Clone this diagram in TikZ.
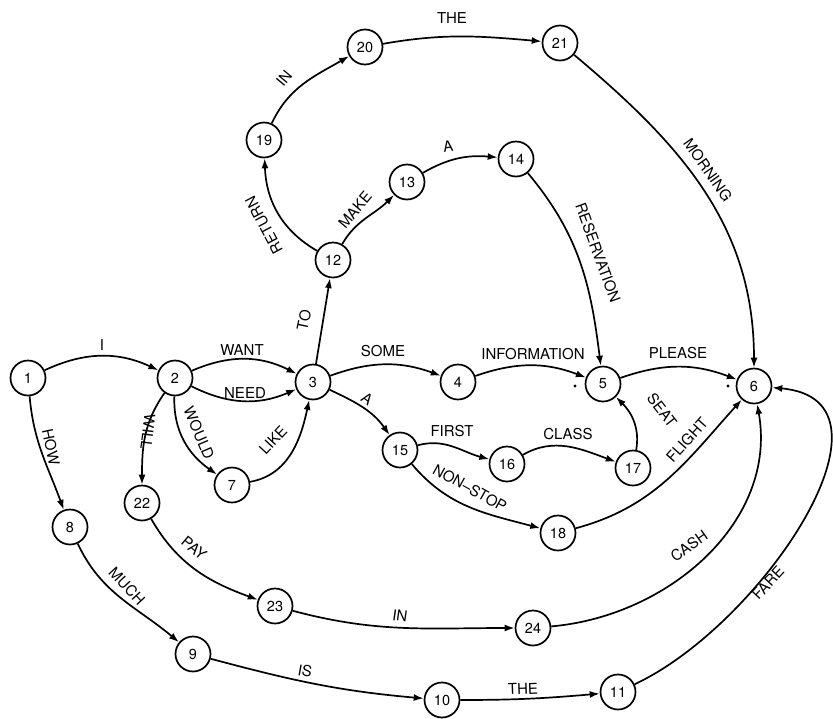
\documentclass[tikz,border=0pt]{standalone}
\usepackage{fontspec}
\setmainfont{TeX Gyre Heros}
\usetikzlibrary{arrows.meta}
\begin{document}
\begin{tikzpicture}[x=1pt,y=1pt,
  stnode/.style={circle,draw,line width=1.7pt,minimum size=35pt,inner sep=0pt,font=\fontsize{14.5}{14.5}\selectfont},
  edgearc/.style={line width=1.7pt,-{Latex[length=10pt,width=7pt]}},
  lbl/.style={font=\fontsize{15}{15}\selectfont,inner sep=0pt},
  fin/.style={circle,fill,inner sep=0pt,minimum size=3.2pt}]
\useasboundingbox (0,0) rectangle (833,-718);
% states
\node[stnode] (n1) at (28,-378) {1};
\node[stnode] (n2) at (175,-378) {2};
\node[stnode] (n3) at (313,-382) {3};
\node[stnode] (n4) at (458,-382) {4};
\node[stnode] (n5) at (603,-384) {5};
\node[stnode] (n6) at (754,-386) {6};
\node[stnode] (n7) at (232,-485) {7};
\node[stnode] (n8) at (70,-527) {8};
\node[stnode] (n9) at (193,-654) {9};
\node[stnode] (n10) at (442,-700) {10};
\node[stnode] (n11) at (618,-692) {11};
\node[stnode] (n12) at (333,-260) {12};
\node[stnode] (n13) at (407,-182) {13};
\node[stnode] (n14) at (516,-159) {14};
\node[stnode] (n15) at (400,-450) {15};
\node[stnode] (n16) at (507,-464) {16};
\node[stnode] (n17) at (633,-468) {17};
\node[stnode] (n18) at (558,-533) {18};
\node[stnode] (n19) at (264,-140) {19};
\node[stnode] (n20) at (365,-47) {20};
\node[stnode] (n21) at (560,-43) {21};
\node[stnode] (n22) at (142,-503) {22};
\node[stnode] (n23) at (275,-606) {23};
\node[stnode] (n24) at (533,-628) {24};
% final-state marks
\node[fin] (f5) at (575,-386) {};
\node[fin] (f6) at (728,-386) {};
% arcs
\draw[edgearc] (n1) to[bend left=25] (n2);
\draw[edgearc] (n2) to[bend left=25] (n3);
\draw[edgearc] (n2) to[bend right=25] (n3);
\draw[edgearc] (n2) to[out=-92,in=145] (n7);
\draw[edgearc] (n7) to[out=10,in=-102] (n3);
\draw[edgearc] (n2) to[out=-125,in=90] (n22);
\draw[edgearc] (n1) to[out=-85,in=110] (n8);
\draw[edgearc] (n8) to[out=-65,in=140] (n9);
\draw[edgearc] (n9) to[out=-15,in=175] (n10);
\draw[edgearc] (n10) to[out=0,in=185] (n11);
\draw[edgearc] (n11) to[out=25,in=-5,looseness=1.1] (n6);
\draw[edgearc] (n22) to[out=-60,in=160] (n23);
\draw[edgearc] (n23) to[out=-15,in=180] (n24);
\draw[edgearc] (n24) to[out=5,in=-80] (n6);
\draw[edgearc] (n18) to[out=15,in=-132] (n6);
\draw[edgearc] (n17) to[out=80,in=-45] (n5);
\draw[edgearc] (n16) to[out=30,in=160] (n17);
\draw[edgearc] (n15) to[out=15,in=165] (n16);
\draw[edgearc] (n15) to[out=-50,in=165] (n18);
\draw[edgearc] (n3) to[out=-25,in=125] (n15);
\draw[edgearc] (n3) to[bend left=20] (n4);
\draw[edgearc] (n4) to[bend left=20] (n5);
\draw[edgearc] (n5) to[bend left=20] (n6);
\draw[edgearc] (n3) -- (n12);
\draw[edgearc] (n12) to[out=150,in=-88] (n19);
\draw[edgearc] (n12) to[out=60,in=-135] (n13);
\draw[edgearc] (n13) to[out=30,in=175] (n14);
\draw[edgearc] (n14) to[out=-50,in=97] (n5);
\draw[edgearc] (n19) to[out=65,in=-150] (n20);
\draw[edgearc] (n20) to[out=10,in=175] (n21);
\draw[edgearc] (n21) to[out=-40,in=90] (n6);
% labels
\node[lbl] (lI) at (102,-345) {I};
\node[lbl] (lWANT) at (242,-350) {WANT};
\node[lbl] (lNEED) at (245,-393) {NEED};
\node[lbl,rotate=-67] (lWOULD) at (199,-433) {WOULD};
\node[lbl,rotate=47] (lLIKE) at (273,-440) {LIKE};
\node[lbl,rotate=-97] (lWILL) at (148,-432) {WILL};
\node[lbl,rotate=-78] (lHOW) at (51,-447) {HOW};
\node[lbl,rotate=-47] (lMUCH) at (127,-586) {MUCH};
\node[lbl,rotate=-40] (lPAY) at (194,-548) {PAY};
\node[lbl,rotate=-10] (lIS) at (305,-671) {IS};
\node[lbl,rotate=-8] (lIN2) at (400,-616) {IN};
\node[lbl,rotate=2] (lTHE2) at (523,-689) {THE};
\node[lbl,rotate=47] (lFARE) at (768,-583) {FARE};
\node[lbl,rotate=35] (lCASH) at (689,-546) {CASH};
\node[lbl,rotate=48] (lFLIGHT) at (687,-440) {FLIGHT};
\node[lbl,rotate=-52] (lSEAT) at (662,-410) {SEAT};
\node[lbl] (lPLEASE) at (678,-353) {PLEASE};
\node[lbl] (lINFO) at (533,-354) {INFORMATION};
\node[lbl] (lSOME) at (383,-351) {SOME};
\node[lbl,rotate=-35] (lA1) at (367,-399) {A};
\node[lbl] (lFIRST) at (452,-431) {FIRST};
\node[lbl] (lCLASS) at (568,-434) {CLASS};
\node[lbl,rotate=-29] (lNONSTOP) at (470,-488) {NON\textendash STOP};
\node[lbl,rotate=78] (lTO) at (304,-320) {TO};
\node[lbl,rotate=118] (lRETURN) at (264,-225) {RETURN};
\node[lbl,rotate=50] (lMAKE) at (355,-210) {MAKE};
\node[lbl,rotate=8] (lA2) at (448,-146) {A};
\node[lbl,rotate=50] (lIN1) at (284,-78) {IN};
\node[lbl] (lTHE1) at (452,-18) {THE};
\node[lbl,rotate=-70] (lRES) at (598,-253) {RESERVATION};
\node[lbl,rotate=-55] (lMORNING) at (708,-170) {MORNING};
\end{tikzpicture}
\end{document}
